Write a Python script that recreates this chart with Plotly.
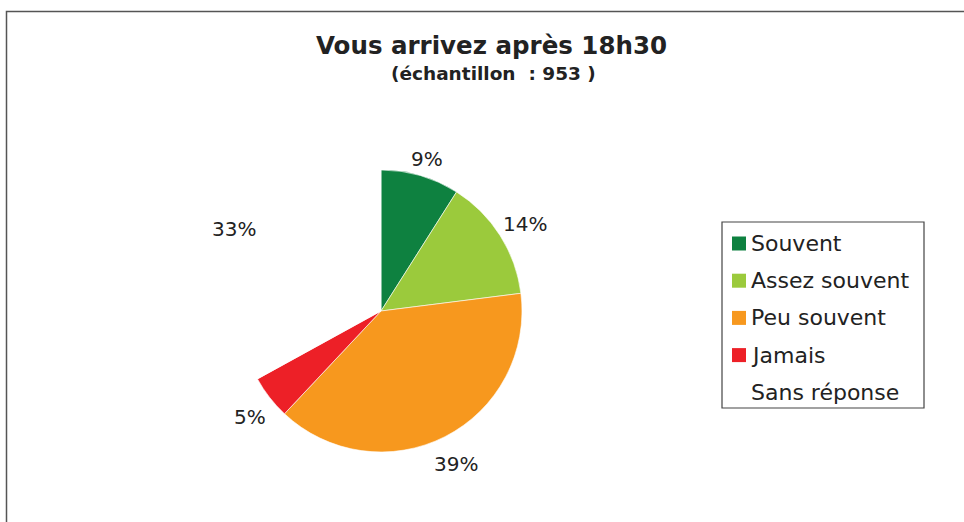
import math
import plotly.graph_objects as go

# ---- data ----
categories = ["Souvent", "Assez souvent", "Peu souvent", "Jamais", "Sans réponse"]
values = [9, 14, 39, 5, 33]
colors = ["#0E8140", "#9BCA3C", "#F7981E", "#ED2027", "#FFFFFF"]
title = "Vous arrivez après 18h30"
subtitle = "(échantillon&nbsp; : 953&nbsp;)"

W, H = 964, 522
FONT = "DejaVu Sans"
TXT = "#222222"


def px(x):
    return x / W


def py(y):
    return 1 - y / H


# pie geometry (pixels)
cx, cy, r = 381, 311, 141

fig = go.Figure(go.Pie(
    labels=categories, values=values, sort=False, direction="clockwise", rotation=0,
    marker=dict(colors=colors, line=dict(color="white", width=0.6)),
    textinfo="none", hoverinfo="label+percent", showlegend=False,
    domain=dict(x=[px(cx - r), px(cx + r)], y=[py(cy + r), py(cy - r)]),
))

annotations = []
shapes = []

# percentage labels placed outside each slice at its mid-angle
LBL = 20
total = sum(values)
cum = 0
for v in values:
    mid = (cum + v / 2) / total * 2 * math.pi
    cum += v
    txt = f"{round(v / total * 100)}%"
    hw, hh = 0.34 * LBL * len(txt), 0.5 * LBL
    s, c = math.sin(mid), math.cos(mid)
    d = r + 12 + math.hypot(hw * s, hh * c)
    lx, ly = cx + d * s, cy - d * c + 5
    annotations.append(dict(x=px(lx), y=py(ly), xref="paper", yref="paper",
                            xanchor="center", yanchor="middle",
                            text=txt, showarrow=False,
                            font=dict(family=FONT, size=LBL, color=TXT)))

# titles
annotations.append(dict(x=px(492), y=py(45), xref="paper", yref="paper", text=f"<b>{title}</b>",
                        xanchor="center", yanchor="middle",
                        showarrow=False, font=dict(family=FONT, size=24.5, color=TXT)))
annotations.append(dict(x=px(494), y=py(74), xref="paper", yref="paper", text=f"<b>{subtitle}</b>",
                        xanchor="center", yanchor="middle",
                        showarrow=False, font=dict(family=FONT, size=18.5, color=TXT)))

# legend (box, swatches, labels)
lx0, ly0, lx1, ly1 = 722, 222, 924, 408
shapes.append(dict(type="rect", xref="paper", yref="paper", x0=px(lx0), x1=px(lx1),
                   y0=py(ly1), y1=py(ly0), line=dict(color="#444444", width=1.2),
                   fillcolor="rgba(0,0,0,0)"))
for i, (name, col) in enumerate(zip(categories, colors)):
    yc = 243.5 + i * 37.2
    shapes.append(dict(type="rect", xref="paper", yref="paper", x0=px(732), x1=px(746),
                       y0=py(yc + 7), y1=py(yc - 7), line=dict(width=0), fillcolor=col))
    annotations.append(dict(x=px(749), y=py(yc), xref="paper", yref="paper", text=name,
                            xanchor="left", yanchor="middle", showarrow=False,
                            font=dict(family=FONT, size=22, color=TXT)))

# outer frame
shapes.append(dict(type="rect", xref="paper", yref="paper", x0=px(6.5), x1=1.02,
                   y0=-0.02, y1=py(11.5), line=dict(color="#555555", width=1.5),
                   fillcolor="rgba(0,0,0,0)"))

fig.update_layout(width=W, height=H, margin=dict(l=0, r=0, t=0, b=0),
                  paper_bgcolor="white", plot_bgcolor="white",
                  annotations=annotations, shapes=shapes, showlegend=False)
fig.write_html("out.html", config={"displayModeBar": False},
               post_script="document.body.style.margin='0';")
